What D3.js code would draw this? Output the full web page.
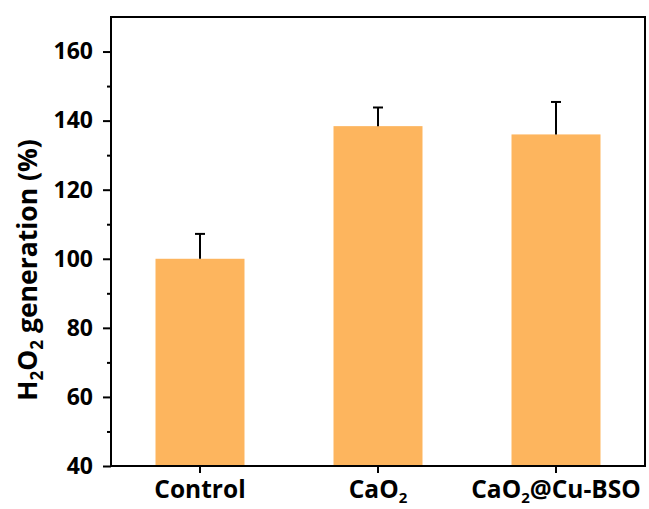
<!DOCTYPE html>
<html>
<head>
<meta charset="utf-8">
<script src="https://cdn.jsdelivr.net/npm/d3@7"></script>
<style>
  html, body { margin: 0; padding: 0; background: #fff; }
  svg text { font-family: "Open Sans", "Noto Sans", sans-serif; font-weight: bold; fill: #000; }
</style>
</head>
<body>
<svg id="chart" width="649" height="509"></svg>
<script>
// Samples and their H2O2 generation (% of control) with error (SD)
const categories = ["Control", "CaO2", "CaO2@Cu-BSO"];
const values = [100, 138.4, 136.0];
const errors = [7.2, 5.4, 9.4];
const yTicks = [40, 60, 80, 100, 120, 140, 160];
const yMinorTicks = [50, 70, 90, 110, 130, 150];

const svg = d3.select("#chart");
const plotLeft = 111, plotRight = 645, plotTop = 17, plotBottom = 466;

const x = d3.scaleBand()
  .domain(categories)
  .range([plotLeft, plotRight])
  .paddingInner(0.5)
  .paddingOuter(0.25);

const y = d3.scaleLinear().domain([40, 170]).range([plotBottom, plotTop]);

// bars
svg.append("g").selectAll("rect")
  .data(categories)
  .join("rect")
  .attr("x", d => x(d))
  .attr("width", x.bandwidth())
  .attr("y", (d, i) => y(values[i]))
  .attr("height", (d, i) => y(40) - y(values[i]))
  .attr("fill", "#FDB55E");

// error bars (upper only)
const eb = svg.append("g").attr("stroke", "#000").attr("stroke-width", 2);
categories.forEach((c, i) => {
  const cx = x(c) + x.bandwidth() / 2;
  eb.append("line").attr("x1", cx).attr("x2", cx)
    .attr("y1", y(values[i])).attr("y2", y(values[i] + errors[i]));
  eb.append("line").attr("x1", cx - 5).attr("x2", cx + 5)
    .attr("y1", y(values[i] + errors[i])).attr("y2", y(values[i] + errors[i]));
});

// frame
svg.append("rect")
  .attr("x", plotLeft).attr("y", plotTop)
  .attr("width", plotRight - plotLeft).attr("height", plotBottom - plotTop)
  .attr("fill", "none").attr("stroke", "#000").attr("stroke-width", 2);

// y axis
const yAxis = svg.append("g").attr("transform", `translate(${plotLeft},0)`)
  .call(d3.axisLeft(y).tickValues(yTicks).tickSize(8).tickPadding(10));
yAxis.select(".domain").remove();
yAxis.selectAll(".tick line").attr("stroke-width", 2);
yAxis.selectAll("text").attr("font-size", 23).attr("font-family", "'Open Sans', sans-serif").attr("font-weight", "bold");

const yMinor = svg.append("g").attr("transform", `translate(${plotLeft},0)`)
  .call(d3.axisLeft(y).tickValues(yMinorTicks).tickSize(4).tickFormat(""));
yMinor.select(".domain").remove();
yMinor.selectAll(".tick line").attr("stroke-width", 2);

// x axis
const xAxis = svg.append("g").attr("transform", `translate(0,${plotBottom})`)
  .call(d3.axisBottom(x).tickSize(7).tickFormat(""));
xAxis.select(".domain").remove();
xAxis.selectAll(".tick line").attr("stroke-width", 2);

// x labels with subscripts
const xl = svg.append("g");
categories.forEach(c => {
  const t = xl.append("text")
    .attr("x", x(c) + x.bandwidth() / 2)
    .attr("y", 498)
    .attr("text-anchor", "middle")
    .attr("font-size", 24.5);
  const parts = c.split(/(O2)/).filter(s => s.length);
  let shifted = false;
  parts.forEach(p => {
    if (p === "O2") {
      t.append("tspan").text("O");
      t.append("tspan").attr("font-size", 15).attr("dy", 5).text("2");
      shifted = true;
    } else {
      t.append("tspan").attr("dy", shifted ? -5 : null).text(p);
      shifted = false;
    }
  });
});

// y title
const yt = svg.append("text")
  .attr("transform", "translate(37,270) rotate(-90)")
  .attr("text-anchor", "middle")
  .attr("font-size", 26.5);
yt.append("tspan").text("H");
yt.append("tspan").attr("font-size", 17).attr("dy", 6).text("2");
yt.append("tspan").attr("dy", -6).text("O");
yt.append("tspan").attr("font-size", 17).attr("dy", 6).text("2");
yt.append("tspan").attr("dy", -6).text(" generation (%)");
</script>
</body>
</html>
